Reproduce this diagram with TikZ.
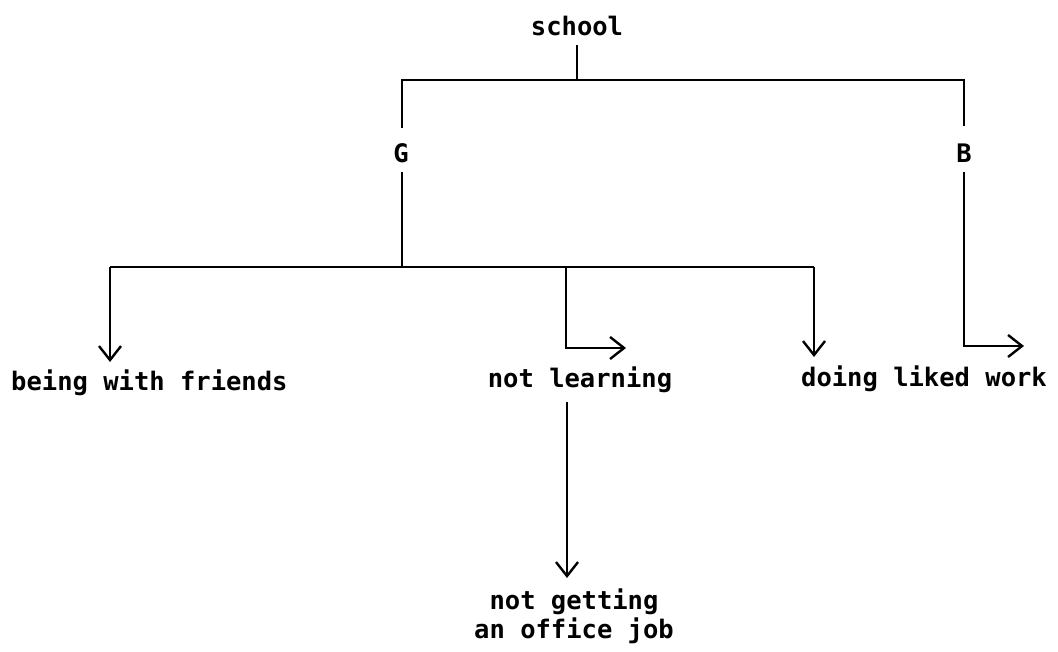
\documentclass[tikz,border=0pt]{standalone}
\usepackage{fontspec}
\setmonofont{DejaVu Sans Mono}
\usetikzlibrary{arrows.meta}
\begin{document}
\begin{tikzpicture}[x=1pt,y=-1pt,
  lbl/.style={font=\ttfamily\bfseries\fontsize{25.5}{29}\selectfont, inner sep=0pt, align=center},
  conn/.style={line width=2.4pt, draw=black},
  arr/.style={conn, -{Straight Barb[length=14pt,width=22pt,line width=2.4pt]}}]
\useasboundingbox (0,0) rectangle (1058,652);
% nodes
\node[lbl, anchor=base] (school) at (577,36) {school};
\node[lbl, anchor=base] (G) at (401,163) {G};
\node[lbl, anchor=base] (B) at (964,163) {B};
\node[lbl, anchor=base west] (friends) at (11,390) {being with friends};
\node[lbl, anchor=base] (notlearn) at (580,388) {not learning};
\node[lbl, anchor=base] (doing) at (924,386) {doing liked work};
\node[lbl, anchor=base] (job) at (574,638) {not getting\\an office job};
% coordinates
\coordinate (s1) at (577,45);
\coordinate (j1) at (577,80);
\coordinate (gl) at (402,80);
\coordinate (br) at (964,80);
\coordinate (gt) at (402,128);
\coordinate (gb) at (402,172);
\coordinate (bt) at (964,126);
\coordinate (bb) at (964,172);
\coordinate (bc) at (964,346);
\coordinate (be) at (1024,346);
\coordinate (j2) at (402,267);
\coordinate (l2) at (110,267);
\coordinate (r2) at (814,267);
\coordinate (m2) at (566,267);
\coordinate (lt) at (110,362);
\coordinate (mc) at (566,348);
\coordinate (me) at (626,348);
\coordinate (rt) at (814,357);
\coordinate (nt) at (567,402);
\coordinate (nb) at (567,578);
% connectors
\draw[conn] (s1) -- (j1);
\draw[conn] (gt) -- (gl) -- (br) -- (bt);
\draw[conn] (gb) -- (j2);
\draw[conn] (l2) -- (r2);
\draw[arr] (l2) -- (lt);
\draw[arr] (m2) -- (mc) -- (me);
\draw[arr] (r2) -- (rt);
\draw[arr] (bb) -- (bc) -- (be);
\draw[arr] (nt) -- (nb);
\end{tikzpicture}
\end{document}
